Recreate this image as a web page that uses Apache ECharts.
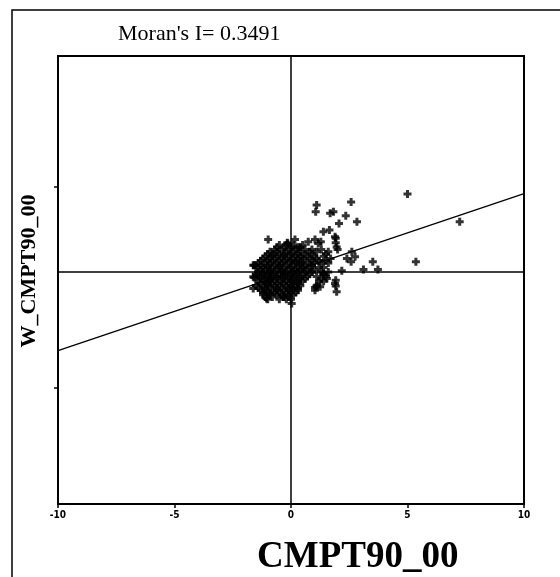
<!DOCTYPE html>
<html>
<head>
<meta charset="utf-8">
<script src="https://cdn.jsdelivr.net/npm/echarts@6/dist/echarts.min.js"></script>
<style>html,body{margin:0;padding:0;background:#fff}#c{width:560px;height:577px}</style>
</head>
<body>
<div id="c"></div>
<script>
// CMPT90_00 (x) values
var cmpt = [
 // core cluster rows
 -0.5,-0.2,0.1,0.5,
 -0.6,-0.3,0.0,0.3,
 -0.7,-0.4,-0.1,0.2,0.6,1.3,
 -0.9,-0.6,-0.2,0.1,0.4,0.8,1.1,
 -1.0,-0.8,-0.5,-0.3,0.0,0.3,0.6,0.9,1.5,
 -1.1,-0.8,-0.6,-0.3,-0.1,0.2,0.4,0.7,1.0,1.4,
 -1.2,-0.9,-0.7,-0.4,-0.2,0.1,0.3,0.5,0.8,1.1,1.7,2.4,
 -1.3,-1.0,-0.8,-0.5,-0.3,0.0,0.2,0.5,0.9,1.2,1.5,
 -1.4,-1.1,-0.9,-0.6,-0.4,-0.1,0.2,0.4,0.7,1.0,1.3,1.6,
 -1.5,-1.3,-1.0,-0.7,-0.5,-0.2,0.1,0.4,0.6,0.9,
 -1.5,-1.2,-1.0,-0.8,-0.5,-0.3,0.0,0.3,0.5,0.8,1.2,1.4,
 -1.3,-1.1,-0.9,-0.6,-0.4,-0.1,0.2,0.4,0.7,1.0,
 -1.4,-1.2,-0.9,-0.7,-0.4,-0.2,0.1,0.3,0.6,0.9,1.3,1.6,
 -1.5,-1.2,-1.0,-0.8,-0.5,-0.3,0.0,0.2,0.5,0.8,1.4,
 -1.5,-1.3,-1.0,-0.8,-0.6,-0.3,-0.1,0.2,0.4,0.7,1.1,1.5,
 -1.3,-1.1,-0.9,-0.6,-0.4,-0.1,0.1,0.4,0.6,1.3,
 -1.4,-1.1,-0.9,-0.7,-0.4,-0.2,0.1,0.3,0.5,1.2,1.4,
 -1.3,-1.0,-0.8,-0.6,-0.3,-0.1,0.1,0.3,
 -1.5,-1.2,-1.0,-0.7,-0.5,-0.2,0.0,0.2,0.4,1.1,
 -1.4,-1.1,-0.9,-0.6,-0.4,-0.1,0.1,0.3,
 -1.3,-1.1,-0.8,-0.6,-0.3,-0.1,0.1,0.3,
 -1.2,-1.0,-0.7,-0.5,-0.2,0.0,0.2,
 -1.2,-0.9,-0.6,-0.4,-0.1,0.1,
 -1.1,-0.8,-0.3,-0.1,
 -1.0,-0.5,-0.2,0.0,
 // scattered points
 5.0,7.24,5.36,2.58,1.1,1.06,1.68,1.82,2.35,2.83,2.06,1.39,1.65,
 -0.98,-0.16,0.17,0.74,1.03,1.28,1.92,1.92,2.58,3.51,3.11,3.73,2.18,
 1.92,1.92,1.1,1.03,-1.58,-1.58,-1.05,
 -0.14,-1.62,-1.62,1.17,1.89,1.96,2.61,2.75,1.89,1.96,1.25,1.03,1.54,1.39,
 -0.9,-0.33,0.03,-1.62,0.4,0.9,1.6,2.0
];
// W_CMPT90_00 (y) values
var wcmpt = [
 1.2,1.2,1.2,1.2,
 1.1,1.1,1.1,1.1,
 1.0,1.0,1.0,1.0,1.0,1.0,
 0.9,0.9,0.9,0.9,0.9,0.9,0.9,
 0.8,0.8,0.8,0.8,0.8,0.8,0.8,0.8,0.8,
 0.7,0.7,0.7,0.7,0.7,0.7,0.7,0.7,0.7,0.7,
 0.6,0.6,0.6,0.6,0.6,0.6,0.6,0.6,0.6,0.6,0.6,0.6,
 0.5,0.5,0.5,0.5,0.5,0.5,0.5,0.5,0.5,0.5,0.5,
 0.4,0.4,0.4,0.4,0.4,0.4,0.4,0.4,0.4,0.4,0.4,0.4,
 0.3,0.3,0.3,0.3,0.3,0.3,0.3,0.3,0.3,0.3,
 0.2,0.2,0.2,0.2,0.2,0.2,0.2,0.2,0.2,0.2,0.2,0.2,
 0.1,0.1,0.1,0.1,0.1,0.1,0.1,0.1,0.1,0.1,
 0.0,0.0,0.0,0.0,0.0,0.0,0.0,0.0,0.0,0.0,0.0,0.0,
 -0.1,-0.1,-0.1,-0.1,-0.1,-0.1,-0.1,-0.1,-0.1,-0.1,-0.1,
 -0.2,-0.2,-0.2,-0.2,-0.2,-0.2,-0.2,-0.2,-0.2,-0.2,-0.2,-0.2,
 -0.3,-0.3,-0.3,-0.3,-0.3,-0.3,-0.3,-0.3,-0.3,-0.3,
 -0.4,-0.4,-0.4,-0.4,-0.4,-0.4,-0.4,-0.4,-0.4,-0.4,-0.4,
 -0.5,-0.5,-0.5,-0.5,-0.5,-0.5,-0.5,-0.5,
 -0.6,-0.6,-0.6,-0.6,-0.6,-0.6,-0.6,-0.6,-0.6,-0.6,
 -0.7,-0.7,-0.7,-0.7,-0.7,-0.7,-0.7,-0.7,
 -0.8,-0.8,-0.8,-0.8,-0.8,-0.8,-0.8,-0.8,
 -0.9,-0.9,-0.9,-0.9,-0.9,-0.9,-0.9,
 -1.0,-1.0,-1.0,-1.0,-1.0,-1.0,
 -1.1,-1.1,-1.1,-1.1,
 -1.2,-1.2,-1.2,-1.2,
 3.47,2.24,0.46,3.12,2.98,2.68,2.61,2.68,2.5,2.24,2.16,1.79,1.87,
 1.45,1.3,1.45,1.35,1.45,1.35,1.5,1.3,0.46,0.46,0.12,0.12,0.06,
 -0.36,-0.62,-0.65,-0.68,0.31,-0.24,-1.17,
 1.27,0.31,-0.21,1.27,1.57,1.12,0.9,0.68,-0.5,-0.87,-0.65,-0.8,-0.28,-0.06,
 -0.95,-1.1,-1.39,-0.73,1.1,1.0,0.9,1.0
];
var lineX = [-10, 10];
var lineY = [-3.49, 3.49];
var xTicks = [-10, -5, 0, 5, 10];
var yTickMarks = [3.8, -5.15];
var titleText = "Moran's I= 0.3491";
var xName = "CMPT90_00";
var yName = "W_CMPT90_00";

var pts = cmpt.map(function (x, i) { return [x, wcmpt[i]]; });
var lineData = lineX.map(function (x, i) { return [x, lineY[i]]; });

var chart = echarts.init(document.getElementById('c'), null, {renderer: 'canvas'});
chart.setOption({
  animation: false,
  backgroundColor: '#ffffff',
  title: [{
    text: titleText, left: 113, top: 18,
    textStyle: {fontFamily: 'Liberation Serif', fontWeight: 'normal', fontSize: 22, color: '#000'}
  }, {
    text: xName, left: 252, top: 534,
    textStyle: {fontFamily: 'Liberation Serif', fontWeight: 'bold', fontSize: 37, color: '#000'}
  }],
  graphic: [{
    type: 'polyline', silent: true,
    shape: {points: [[12, 577], [12, 10], [560, 10]]},
    style: {stroke: '#000', lineWidth: 1.5, fill: null}
  }, {
    type: 'text', silent: true,
    x: 29, y: 271, rotation: Math.PI / 2,
    style: {
      text: yName, fill: '#000', align: 'center', verticalAlign: 'middle',
      font: 'bold 22px "Liberation Serif"'
    }
  }],
  grid: {left: 58, right: 36, top: 56, bottom: 73, show: true, borderColor: '#000', borderWidth: 2},
  xAxis: {
    type: 'value', min: -10, max: 10, interval: 5,
    axisLine: {onZero: false, lineStyle: {color: '#000', width: 2}},
    axisTick: {show: true, length: 4, lineStyle: {color: '#000', width: 1.5}},
    axisLabel: {
      fontFamily: 'DejaVu Sans Condensed', fontWeight: 'bold', fontSize: 10, color: '#000', margin: 6,
      formatter: function (v) { return xTicks.indexOf(v) >= 0 ? String(v) : ''; }
    },
    splitLine: {show: false}
  },
  yAxis: {
    type: 'value', min: -10.3, max: 9.6,
    axisLine: {onZero: false, lineStyle: {color: '#000', width: 2}},
    axisTick: {show: true, length: 4, customValues: yTickMarks, lineStyle: {color: '#000', width: 1.5}},
    axisLabel: {show: false},
    splitLine: {show: false}
  },
  series: [{
    type: 'scatter',
    data: pts,
    symbol: 'path://M2.5,0H5.5V2.5H8V5.5H5.5V8H2.5V5.5H0V2.5H2.5Z',
    symbolSize: 8,
    itemStyle: {color: '#000'},
    markLine: {
      silent: true, symbol: 'none', label: {show: false},
      lineStyle: {color: '#000', width: 1.5, type: 'solid'},
      data: [{xAxis: 0}, {yAxis: 0}]
    },
    z: 3
  }, {
    type: 'line',
    data: lineData,
    symbol: 'none',
    lineStyle: {color: '#000', width: 1.3},
    z: 2
  }]
});
</script>
</body>
</html>
